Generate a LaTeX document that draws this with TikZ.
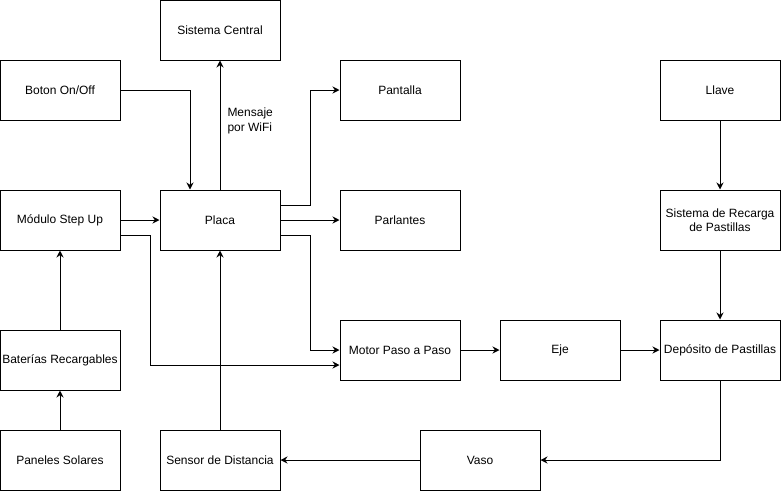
\documentclass[tikz,border=0pt]{standalone}
\usepackage{fontspec}
\setmainfont{Liberation Sans}
\usetikzlibrary{arrows.meta}
\usetikzlibrary{calc}

\tikzset{
  block/.style={draw, line width=1pt, minimum width=120pt, minimum height=60pt,
    align=center, inner sep=1pt, font=\fontsize{12}{14}\selectfont},
  link/.style={line width=1pt, -{Stealth[length=7pt,width=7pt]}},
  lbl/.style={align=left, inner sep=0pt, font=\fontsize{12}{15}\selectfont}
}

\begin{document}
\begin{tikzpicture}[x=1pt,y=-1pt]
  \useasboundingbox (0,0) rectangle (781,491);
  % bloques
  \node[block] (central) at (220,30) {Sistema Central};
  \node[block] (boton) at (60,90) {Boton On/Off};
  \node[block] (pantalla) at (400,90) {Pantalla};
  \node[block] (llave) at (720,90) {Llave};
  \node[block] (modulo) at (60,220) {Módulo Step Up};
  \node[block] (placa) at (220,220) {Placa};
  \node[block] (parlantes) at (400,220) {Parlantes};
  \node[block] (recarga) at (720,220) {Sistema de Recarga\\de Pastillas};
  \node[block] (baterias) at (60,360) {Baterías Recargables};
  \node[block] (motor) at (400,350) {Motor Paso a Paso};
  \node[block] (eje) at (560,350) {Eje};
  \node[block] (deposito) at (720,350) {Depósito de Pastillas};
  \node[block] (paneles) at (60,460) {Paneles Solares};
  \node[block] (sensor) at (220,460) {Sensor de Distancia};
  \node[block] (vaso) at (480,460) {Vaso};

  % conexiones
  \draw[link] (boton.east) -| ($(placa.north)+(-30,0)$);
  \draw[link] (placa.north) -- node[lbl, right=7pt, pos=0.53] (wifi) {Mensaje\\por WiFi} (central.south);
  \draw[link] ($(placa.east)+(0,-15)$) -- ++(30,0) |- (pantalla.west);
  \draw[link] (placa.east) -- (parlantes.west);
  \draw[link] ($(placa.east)+(0,15)$) -- ++(30,0) |- (motor.west);
  \draw[link] (modulo.east) -- (placa.west);
  \draw[link] ($(modulo.east)+(0,15)$) -- ++(30,0) |- ($(motor.west)+(0,15)$);
  \draw[link] (baterias.north) -- (modulo.south);
  \draw[link] (paneles.north) -- (baterias.south);
  \draw[link] (sensor.north) -- (placa.south);
  \draw[link] (motor.east) -- (eje.west);
  \draw[link] (eje.east) -- (deposito.west);
  \draw[link] (llave.south) -- (recarga.north);
  \draw[link] (recarga.south) -- (deposito.north);
  \draw[link] (deposito.south) |- (vaso.east);
  \draw[link] (vaso.west) -- (sensor.east);
\end{tikzpicture}
\end{document}
